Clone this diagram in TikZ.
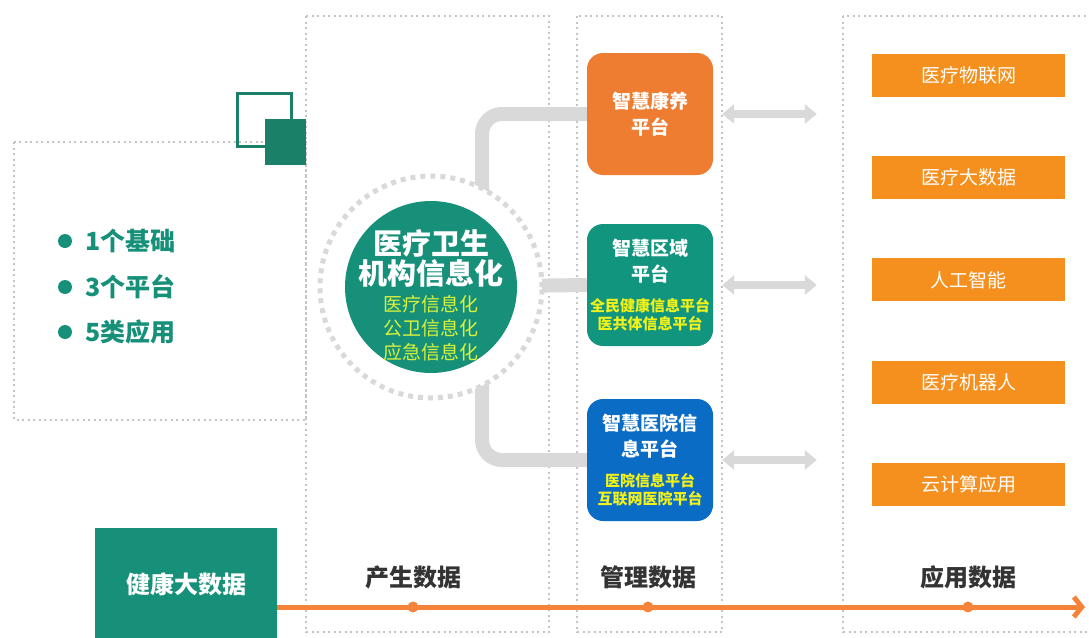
\documentclass[tikz,border=0pt]{standalone}
\usepackage{fontspec}
\setmainfont{Noto Sans CJK SC}
\usetikzlibrary{arrows.meta, positioning}
\definecolor{healthTeal}{HTML}{17907A}
\definecolor{decoTeal}{HTML}{1B8068}
\definecolor{regionTeal}{HTML}{12957F}
\definecolor{careOrange}{HTML}{EE7D32}
\definecolor{hospBlue}{HTML}{0A6CC4}
\definecolor{appOrange}{HTML}{F5901E}
\definecolor{lineOrange}{HTML}{F5843A}
\definecolor{subYellow}{HTML}{F2F21A}
\definecolor{coreLime}{HTML}{D9F23A}
\definecolor{connGray}{HTML}{D9D9D9}
\definecolor{frameGray}{HTML}{C4C4C4}
\definecolor{labelGray}{HTML}{333333}
\newcommand{\platSub}{\fontsize{15}{18}\selectfont\color{subYellow}}
\newcommand{\coreSub}{\fontsize{19}{22}\selectfont\mdseries\color{coreLime}}

\begin{document}
\begin{tikzpicture}[x=1pt, y=-1pt,
  dotframe/.style={draw=frameGray, line width=2pt, dash pattern=on 2pt off 3.5pt},
  platbox/.style={rounded corners=16pt, minimum width=126pt, minimum height=122pt,
    inner sep=0pt, align=center, text=white, font=\fontsize{19}{26}\selectfont\bfseries},
  appbox/.style={fill=appOrange, minimum width=193pt, minimum height=43pt,
    inner sep=0pt, text=white, font=\fontsize{19}{22}\selectfont},
  conn/.style={draw=connGray, line width=14pt, rounded corners=20pt},
  dblarr/.style={{Triangle[length=12pt, width=19pt]}-{Triangle[length=12pt, width=19pt]},
    draw=connGray, line width=8pt},
  bullet/.style={circle, fill=healthTeal, minimum size=14pt, inner sep=0pt},
  itemtext/.style={text=healthTeal, font=\fontsize{25}{28}\selectfont\bfseries, inner sep=0pt},
  phase/.style={text=labelGray, font=\fontsize{24}{26}\selectfont\bfseries}
]
\useasboundingbox (0,0) rectangle (1089,637);
\clip (0,0) rectangle (1089,637);

% dotted frames
\draw[dotframe] (14,142) rectangle (306,420);
\draw[dotframe] (306,16) rectangle (549,632);
\draw[dotframe] (577,16) rectangle (722,632);
\draw[dotframe] (843,16) rectangle (1110,632);

% corner squares
\draw[decoTeal, line width=3pt] (237,93) rectangle (291,146);
\fill[decoTeal] (265,119) rectangle (306,165);

% key points
\node[bullet] (dot1) at (65,241) {};
\node[itemtext, right=13pt of dot1] (item1) {1个基础};
\node[bullet] (dot2) at (65,287) {};
\node[itemtext, right=13pt of dot2] (item2) {3个平台};
\node[bullet] (dot3) at (65,332) {};
\node[itemtext, right=13pt of dot3] (item3) {5类应用};

% platforms
\node[platbox, fill=careOrange] (care) at (650,114) {智慧康养\\平台};
\node[platbox, fill=regionTeal] (region) at (650,285)
  {智慧区域\\平台\\[4pt]{\platSub 全民健康信息平台}\\[-8pt]{\platSub 医共体信息平台}};
\node[platbox, fill=hospBlue] (hosp) at (650,460)
  {智慧医院信\\息平台\\[4pt]{\platSub 医院信息平台}\\[-8pt]{\platSub 互联网医院平台}};

% branches from the hub
\coordinate (hub) at (431,287);
\draw[conn] (hub) -- (region.west);
\draw[conn] ([xshift=51pt]hub) |- (care.west);
\draw[conn] ([xshift=51pt]hub) |- (hosp.west);

\node[circle, fill=white, draw=connGray, line width=5pt, dash pattern=on 5pt off 5pt,
  minimum size=222pt] (ring) at (hub) {};
\node[circle, fill=healthTeal, minimum size=172pt, inner sep=0pt] (core) at (hub) {};
\node[align=center, inner sep=0pt, text=white, font=\fontsize{29}{30}\selectfont\bfseries]
  (coreText) at ([yshift=-8pt]core.center)
  {医疗卫生\\机构信息化\\[-3pt]{\coreSub 医疗信息化}\\[-6pt]{\coreSub 公卫信息化}\\[-6pt]{\coreSub 应急信息化}};

% applications
\node[appbox] (app1) at (968.5,75) {医疗物联网};
\node[appbox, below=59pt of app1] (app2) {医疗大数据};
\node[appbox, below=59pt of app2] (app3) {人工智能};
\node[appbox, below=59pt of app3] (app4) {医疗机器人};
\node[appbox, below=59pt of app4] (app5) {云计算应用};

\draw[dblarr] ([xshift=9pt]care.east) -- ([xshift=-55pt]app1.west |- care.east);
\draw[dblarr] ([xshift=9pt]region.east) -- ([xshift=-55pt]app1.west |- region.east);
\draw[dblarr] ([xshift=9pt]hosp.east) -- ([xshift=-55pt]app1.west |- hosp.east);

% bottom timeline
\node[fill=healthTeal, minimum width=182pt, minimum height=112pt, inner sep=0pt,
  text=white, font=\fontsize{24}{26}\selectfont\bfseries] (bigdata) at (186,584) {健康大数据};
\node[phase] (phaseGen) at (413,577) {产生数据};
\node[phase] (phaseMgmt) at (648,577) {管理数据};
\node[phase] (phaseUse) at (968,577) {应用数据};
\coordinate (lineEnd) at (1085,607);
\draw[lineOrange, line width=5pt, -{Straight Barb[length=8pt, width=20pt]}]
  (bigdata.east |- lineEnd) -- (lineEnd);
\fill[lineOrange] (phaseGen |- lineEnd) circle (5.5pt);
\fill[lineOrange] (phaseMgmt |- lineEnd) circle (5.5pt);
\fill[lineOrange] (phaseUse |- lineEnd) circle (5.5pt);
\end{tikzpicture}
\end{document}
